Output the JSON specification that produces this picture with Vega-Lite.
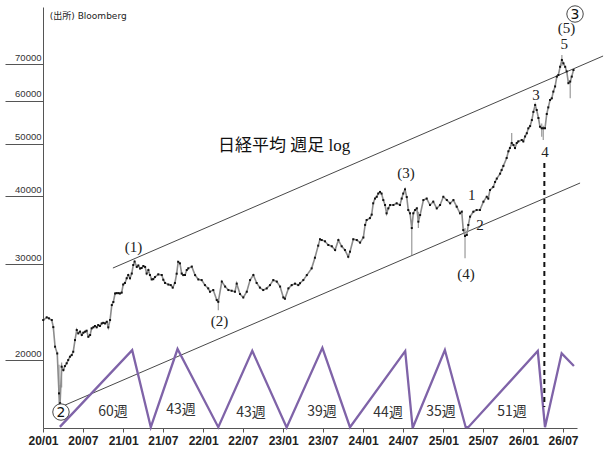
{
  "$schema": "https://vega.github.io/schema/vega-lite/v6.json",
  "description": "Nikkei weekly, log scale, with channel lines and cycle zigzag",
  "width": 534,
  "height": 421,
  "autosize": "none",
  "padding": {"left": 43, "top": 7, "right": 27, "bottom": 26},
  "background": "#ffffff",
  "config": {
    "view": {"stroke": null},
    "axis": {"domainColor": "#555555", "tickColor": "#555555", "grid": false, "title": null}
  },
  "datasets": {
    "price": [
      {"date": "2020-01-02", "v": 23700}, {"date": "2020-01-18", "v": 23970}, {"date": "2020-01-28", "v": 23870},
      {"date": "2020-02-10", "v": 23700}, {"date": "2020-02-17", "v": 23000}, {"date": "2020-02-25", "v": 21170},
      {"date": "2020-03-06", "v": 20570}, {"date": "2020-03-14", "v": 17370}, {"date": "2020-03-19", "v": 16660},
      {"date": "2020-03-26", "v": 19450}, {"date": "2020-04-03", "v": 19170}, {"date": "2020-04-10", "v": 19500},
      {"date": "2020-04-18", "v": 19730}, {"date": "2020-04-25", "v": 20000}, {"date": "2020-05-03", "v": 20290},
      {"date": "2020-05-11", "v": 20430}, {"date": "2020-05-18", "v": 20720}, {"date": "2020-05-26", "v": 21770},
      {"date": "2020-06-03", "v": 22720}, {"date": "2020-06-10", "v": 22400}, {"date": "2020-06-18", "v": 22560},
      {"date": "2020-06-26", "v": 22240}, {"date": "2020-07-03", "v": 22460}, {"date": "2020-07-11", "v": 22560},
      {"date": "2020-07-18", "v": 22650}, {"date": "2020-07-26", "v": 22080}, {"date": "2020-08-03", "v": 22240},
      {"date": "2020-08-10", "v": 22880}, {"date": "2020-08-18", "v": 22980}, {"date": "2020-08-25", "v": 23110},
      {"date": "2020-09-02", "v": 22980}, {"date": "2020-09-09", "v": 23200}, {"date": "2020-09-17", "v": 23110},
      {"date": "2020-09-25", "v": 23360}, {"date": "2020-10-02", "v": 23420}, {"date": "2020-10-10", "v": 23360},
      {"date": "2020-10-18", "v": 23520}, {"date": "2020-10-25", "v": 22980}, {"date": "2020-11-02", "v": 23700},
      {"date": "2020-11-10", "v": 25250}, {"date": "2020-11-17", "v": 25580}, {"date": "2020-11-25", "v": 26520},
      {"date": "2020-12-02", "v": 26560}, {"date": "2020-12-10", "v": 26560}, {"date": "2020-12-17", "v": 26520},
      {"date": "2020-12-25", "v": 26620}, {"date": "2021-01-01", "v": 27550}, {"date": "2021-01-09", "v": 27730},
      {"date": "2021-01-17", "v": 28290}, {"date": "2021-01-24", "v": 28680}, {"date": "2021-02-01", "v": 28290},
      {"date": "2021-02-09", "v": 28860}, {"date": "2021-02-16", "v": 29920}, {"date": "2021-02-22", "v": 30360},
      {"date": "2021-03-04", "v": 29680}, {"date": "2021-03-11", "v": 29860}, {"date": "2021-03-19", "v": 29480},
      {"date": "2021-03-26", "v": 29540}, {"date": "2021-04-03", "v": 29800}, {"date": "2021-04-11", "v": 29680},
      {"date": "2021-04-18", "v": 28860}, {"date": "2021-04-26", "v": 29290}, {"date": "2021-05-03", "v": 28680},
      {"date": "2021-05-11", "v": 28150}, {"date": "2021-05-18", "v": 28180}, {"date": "2021-05-26", "v": 28430},
      {"date": "2021-06-10", "v": 28760}, {"date": "2021-06-26", "v": 28680}, {"date": "2021-07-03", "v": 28110},
      {"date": "2021-07-11", "v": 27730}, {"date": "2021-07-26", "v": 27550}, {"date": "2021-08-06", "v": 27480},
      {"date": "2021-08-15", "v": 27190}, {"date": "2021-08-25", "v": 27730}, {"date": "2021-09-02", "v": 28840},
      {"date": "2021-09-09", "v": 30330}, {"date": "2021-09-17", "v": 30130}, {"date": "2021-09-25", "v": 28860},
      {"date": "2021-10-02", "v": 28670}, {"date": "2021-10-10", "v": 28680}, {"date": "2021-10-18", "v": 29290},
      {"date": "2021-10-25", "v": 29500}, {"date": "2021-11-10", "v": 29720}, {"date": "2021-11-25", "v": 28670},
      {"date": "2021-12-10", "v": 28150}, {"date": "2021-12-25", "v": 28070}, {"date": "2022-01-09", "v": 27480},
      {"date": "2022-01-24", "v": 27100}, {"date": "2022-02-01", "v": 26720}, {"date": "2022-02-16", "v": 26910},
      {"date": "2022-03-04", "v": 25790}, {"date": "2022-03-11", "v": 25600}, {"date": "2022-03-27", "v": 27890},
      {"date": "2022-04-11", "v": 27310}, {"date": "2022-04-26", "v": 26910}, {"date": "2022-05-11", "v": 26830},
      {"date": "2022-05-26", "v": 26720}, {"date": "2022-06-03", "v": 27650}, {"date": "2022-06-18", "v": 26460},
      {"date": "2022-07-03", "v": 26080}, {"date": "2022-07-19", "v": 26720}, {"date": "2022-08-03", "v": 28070},
      {"date": "2022-08-18", "v": 28680}, {"date": "2022-09-02", "v": 27730}, {"date": "2022-09-17", "v": 27190},
      {"date": "2022-10-02", "v": 26910}, {"date": "2022-10-18", "v": 27100}, {"date": "2022-11-02", "v": 27480},
      {"date": "2022-11-17", "v": 28070}, {"date": "2022-12-03", "v": 27890}, {"date": "2022-12-18", "v": 27310},
      {"date": "2023-01-02", "v": 26080}, {"date": "2023-01-09", "v": 25940}, {"date": "2023-01-25", "v": 27100},
      {"date": "2023-02-09", "v": 27480}, {"date": "2023-02-24", "v": 27650}, {"date": "2023-03-11", "v": 27480},
      {"date": "2023-03-19", "v": 27700}, {"date": "2023-04-03", "v": 28070}, {"date": "2023-04-19", "v": 28670},
      {"date": "2023-05-11", "v": 29500}, {"date": "2023-05-26", "v": 30860}, {"date": "2023-06-10", "v": 32480},
      {"date": "2023-06-18", "v": 33370}, {"date": "2023-06-26", "v": 33260}, {"date": "2023-07-11", "v": 33080},
      {"date": "2023-07-26", "v": 32570}, {"date": "2023-08-11", "v": 32390}, {"date": "2023-08-26", "v": 31880},
      {"date": "2023-09-10", "v": 33260}, {"date": "2023-09-25", "v": 32390}, {"date": "2023-10-10", "v": 31880},
      {"date": "2023-10-25", "v": 30990}, {"date": "2023-11-02", "v": 31660}, {"date": "2023-11-17", "v": 33370},
      {"date": "2023-12-03", "v": 33260}, {"date": "2023-12-18", "v": 32900}, {"date": "2024-01-02", "v": 33620},
      {"date": "2024-01-10", "v": 35460}, {"date": "2024-01-17", "v": 36210}, {"date": "2024-02-01", "v": 36500},
      {"date": "2024-02-09", "v": 37040}, {"date": "2024-02-16", "v": 38860}, {"date": "2024-02-24", "v": 39650},
      {"date": "2024-03-03", "v": 39950}, {"date": "2024-03-10", "v": 40500}, {"date": "2024-03-18", "v": 40780},
      {"date": "2024-03-25", "v": 40500}, {"date": "2024-04-02", "v": 39400}, {"date": "2024-04-10", "v": 38580},
      {"date": "2024-04-17", "v": 37250}, {"date": "2024-04-25", "v": 38040}, {"date": "2024-05-03", "v": 38580},
      {"date": "2024-05-18", "v": 38580}, {"date": "2024-06-02", "v": 38860}, {"date": "2024-06-17", "v": 38580},
      {"date": "2024-06-25", "v": 39650}, {"date": "2024-07-02", "v": 40500}, {"date": "2024-07-10", "v": 41220},
      {"date": "2024-07-18", "v": 39900}, {"date": "2024-07-25", "v": 37770}, {"date": "2024-08-02", "v": 37250},
      {"date": "2024-08-10", "v": 34990}, {"date": "2024-08-17", "v": 37250}, {"date": "2024-08-25", "v": 37770},
      {"date": "2024-09-02", "v": 38040}, {"date": "2024-09-09", "v": 35950}, {"date": "2024-09-17", "v": 36980},
      {"date": "2024-10-02", "v": 39400}, {"date": "2024-10-17", "v": 39650}, {"date": "2024-11-01", "v": 38580},
      {"date": "2024-11-16", "v": 39130}, {"date": "2024-12-02", "v": 38040}, {"date": "2024-12-17", "v": 38580},
      {"date": "2025-01-01", "v": 39950}, {"date": "2025-01-17", "v": 39400}, {"date": "2025-02-01", "v": 38860},
      {"date": "2025-02-16", "v": 39400}, {"date": "2025-03-03", "v": 38310}, {"date": "2025-03-18", "v": 37250},
      {"date": "2025-03-26", "v": 37500}, {"date": "2025-04-02", "v": 34700}, {"date": "2025-04-10", "v": 33830},
      {"date": "2025-04-18", "v": 33980}, {"date": "2025-04-25", "v": 35450}, {"date": "2025-05-03", "v": 36720},
      {"date": "2025-05-18", "v": 37500}, {"date": "2025-06-02", "v": 37770}, {"date": "2025-06-17", "v": 37770},
      {"date": "2025-07-03", "v": 39130}, {"date": "2025-07-18", "v": 39950}, {"date": "2025-07-25", "v": 39650},
      {"date": "2025-08-02", "v": 41110}, {"date": "2025-08-17", "v": 41650}, {"date": "2025-08-25", "v": 42540},
      {"date": "2025-09-02", "v": 43150}, {"date": "2025-09-17", "v": 44060}, {"date": "2025-09-24", "v": 44740},
      {"date": "2025-10-02", "v": 45530}, {"date": "2025-10-17", "v": 47090}, {"date": "2025-10-25", "v": 48440},
      {"date": "2025-11-01", "v": 49120}, {"date": "2025-11-09", "v": 50180}, {"date": "2025-11-17", "v": 49750},
      {"date": "2025-11-24", "v": 49120}, {"date": "2025-12-02", "v": 50180}, {"date": "2025-12-09", "v": 50510},
      {"date": "2025-12-25", "v": 50810}, {"date": "2026-01-01", "v": 50510}, {"date": "2026-01-09", "v": 51580},
      {"date": "2026-01-17", "v": 52290}, {"date": "2026-01-24", "v": 53390}, {"date": "2026-02-01", "v": 53900},
      {"date": "2026-02-09", "v": 55300}, {"date": "2026-02-16", "v": 57240}, {"date": "2026-02-24", "v": 58940},
      {"date": "2026-03-03", "v": 57700}, {"date": "2026-03-11", "v": 55780}, {"date": "2026-03-18", "v": 53760},
      {"date": "2026-03-26", "v": 53410}, {"date": "2026-04-02", "v": 53410}, {"date": "2026-04-10", "v": 53410},
      {"date": "2026-04-18", "v": 56730}, {"date": "2026-04-25", "v": 58340}, {"date": "2026-05-03", "v": 60200},
      {"date": "2026-05-11", "v": 60630}, {"date": "2026-05-18", "v": 62380}, {"date": "2026-05-26", "v": 63760},
      {"date": "2026-06-03", "v": 66470}, {"date": "2026-06-10", "v": 66930}, {"date": "2026-06-18", "v": 69290},
      {"date": "2026-06-26", "v": 71310}, {"date": "2026-07-03", "v": 70320}, {"date": "2026-07-11", "v": 69290},
      {"date": "2026-07-18", "v": 67950}, {"date": "2026-07-26", "v": 64660}, {"date": "2026-08-03", "v": 65090},
      {"date": "2026-08-10", "v": 66470}, {"date": "2026-08-18", "v": 68350}
    ],
    "wicks": [
      {"date": "2020-03-14", "lo": 16540, "hi": 19600},
      {"date": "2020-03-19", "lo": 16400, "hi": 18000},
      {"date": "2020-03-26", "lo": 17800, "hi": 19800},
      {"date": "2022-03-11", "lo": 24700, "hi": 26000},
      {"date": "2024-08-10", "lo": 31210, "hi": 36000},
      {"date": "2024-09-09", "lo": 35000, "hi": 37500},
      {"date": "2025-04-10", "lo": 30780, "hi": 35000},
      {"date": "2025-11-09", "lo": 49500, "hi": 52330},
      {"date": "2026-03-26", "lo": 51500, "hi": 54500},
      {"date": "2026-04-02", "lo": 50810, "hi": 54000},
      {"date": "2026-06-26", "lo": 69500, "hi": 72840},
      {"date": "2026-08-03", "lo": 60630, "hi": 65500}
    ],
    "channels": [
      {"line": "upper", "date": "2020-11-15", "v": 29540},
      {"line": "upper", "date": "2026-12-31", "v": 72530},
      {"line": "lower", "date": "2020-04-01", "v": 16465},
      {"line": "lower", "date": "2026-09-17", "v": 42350}
    ],
    "cycle": [
      {"date": "2020-03-18", "v": 15070}, {"date": "2021-02-11", "v": 20860},
      {"date": "2021-05-07", "v": 15050}, {"date": "2021-09-06", "v": 20960},
      {"date": "2022-03-11", "v": 15050}, {"date": "2022-08-13", "v": 20800},
      {"date": "2023-01-17", "v": 15030}, {"date": "2023-06-29", "v": 21070},
      {"date": "2023-11-02", "v": 15050}, {"date": "2024-07-11", "v": 20780},
      {"date": "2024-08-14", "v": 15000}, {"date": "2025-01-08", "v": 20870},
      {"date": "2025-04-13", "v": 15050}, {"date": "2025-04-25", "v": 15050},
      {"date": "2026-03-08", "v": 20780}, {"date": "2026-04-10", "v": 15050},
      {"date": "2026-06-25", "v": 20580}, {"date": "2026-08-20", "v": 19500}
    ],
    "weeks": [
      {"date": "2020-11-15", "v": 16050, "label": "60週"},
      {"date": "2021-09-22", "v": 16190, "label": "43週"},
      {"date": "2022-08-07", "v": 15990, "label": "43週"},
      {"date": "2023-06-27", "v": 16050, "label": "39週"},
      {"date": "2024-04-24", "v": 15990, "label": "44週"},
      {"date": "2024-12-21", "v": 16050, "label": "35週"},
      {"date": "2025-11-10", "v": 16050, "label": "51週"}
    ],
    "waves": [
      {"date": "2021-02-17", "v": 32300, "label": "(1)"},
      {"date": "2022-03-16", "v": 23600, "label": "(2)"},
      {"date": "2024-07-15", "v": 44180, "label": "(3)"},
      {"date": "2025-04-15", "v": 28790, "label": "(4)"},
      {"date": "2026-07-17", "v": 81670, "label": "(5)"},
      {"date": "2025-05-11", "v": 40250, "label": "1"},
      {"date": "2025-06-17", "v": 35450, "label": "2"},
      {"date": "2026-02-28", "v": 61490, "label": "3"},
      {"date": "2026-04-10", "v": 48300, "label": "4"},
      {"date": "2026-07-07", "v": 76320, "label": "5"}
    ],
    "circled": [
      {"date": "2020-03-23", "v": 16050, "label": "2"},
      {"date": "2026-08-25", "v": 86660, "label": "3"}
    ],
    "marker": [
      {"date": "2026-04-07", "v": 46090, "v2": 16390}
    ],
    "notes": [
      {"date": "2023-01-05", "v": 49540, "label": "日経平均 週足 log", "kind": "title"},
      {"date": "2020-02-01", "v": 85930, "label": "(出所) Bloomberg", "kind": "source"}
    ]
  },
  "encoding": {
    "x": {
      "field": "date",
      "type": "temporal",
      "scale": {
        "type": "utc",
        "nice": false,
        "domain": [
          {"year": 2020, "month": 1, "date": 1, "utc": true},
          {"year": 2026, "month": 9, "date": 3, "utc": true}
        ]
      },
      "axis": {
        "values": [
          {"year": 2020, "month": 1, "date": 1, "utc": true},
          {"year": 2020, "month": 7, "date": 1, "utc": true},
          {"year": 2021, "month": 1, "date": 1, "utc": true},
          {"year": 2021, "month": 7, "date": 1, "utc": true},
          {"year": 2022, "month": 1, "date": 1, "utc": true},
          {"year": 2022, "month": 7, "date": 1, "utc": true},
          {"year": 2023, "month": 1, "date": 1, "utc": true},
          {"year": 2023, "month": 7, "date": 1, "utc": true},
          {"year": 2024, "month": 1, "date": 1, "utc": true},
          {"year": 2024, "month": 7, "date": 1, "utc": true},
          {"year": 2025, "month": 1, "date": 1, "utc": true},
          {"year": 2025, "month": 7, "date": 1, "utc": true},
          {"year": 2026, "month": 1, "date": 1, "utc": true},
          {"year": 2026, "month": 7, "date": 1, "utc": true}
        ],
        "labelExpr": "utcFormat(datum.value, '%y/%m')",
        "labelFlush": false,
        "labelOverlap": false,
        "labelAlign": "center",
        "tickSize": 4,
        "labelPadding": 3,
        "labelFont": "Liberation Sans",
        "labelFontWeight": "bold",
        "labelFontSize": 12,
        "labelColor": "#222222"
      }
    },
    "y": {
      "field": "v",
      "type": "quantitative",
      "scale": {"type": "log", "nice": false, "domain": [15000, 89270]},
      "axis": {
        "values": [20000, 30000, 40000, 50000, 60000, 70000],
        "format": "d",
        "tickSize": 38,
        "labelPadding": -36,
        "labelBaseline": "bottom",
        "labelOffset": -2,
        "labelFont": "Liberation Sans",
        "labelFontSize": 9.5,
        "labelColor": "#333333"
      }
    }
  },
  "layer": [
    {
      "data": {"name": "channels"},
      "mark": {"type": "line", "color": "#333333", "strokeWidth": 0.9, "clip": false},
      "encoding": {"detail": {"field": "line"}}
    },
    {
      "data": {"name": "cycle"},
      "mark": {"type": "line", "color": "#7f63a8", "strokeWidth": 2.3, "clip": false},
      "encoding": {}
    },
    {
      "data": {"name": "marker"},
      "mark": {"type": "rule", "color": "#111111", "strokeWidth": 2, "strokeDash": [5, 4]},
      "encoding": {"y2": {"field": "v2"}}
    },
    {
      "data": {"name": "wicks"},
      "mark": {"type": "rule", "color": "#999999", "strokeWidth": 1.2},
      "encoding": {"y": {"field": "lo", "type": "quantitative"}, "y2": {"field": "hi"}}
    },
    {
      "data": {"name": "price"},
      "mark": {"type": "line", "color": "#8c8c8c", "strokeWidth": 1.6},
      "encoding": {}
    },
    {
      "data": {"name": "price"},
      "mark": {"type": "square", "color": "#111111", "size": 4, "opacity": 1},
      "encoding": {}
    },
    {
      "data": {"name": "waves"},
      "mark": {"type": "text", "font": "Liberation Serif", "fontSize": 15, "color": "#222222", "baseline": "middle"},
      "encoding": {"text": {"field": "label"}}
    },
    {
      "data": {"name": "circled"},
      "mark": {"type": "point", "shape": "circle", "size": 270, "filled": true, "fill": "#ffffff", "stroke": "#333333", "strokeWidth": 0.9, "opacity": 1, "fillOpacity": 1},
      "encoding": {}
    },
    {
      "data": {"name": "circled"},
      "mark": {"type": "text", "font": "DejaVu Sans", "fontSize": 14, "color": "#111111", "baseline": "middle", "dy": 1},
      "encoding": {"text": {"field": "label"}}
    },
    {
      "data": {"name": "weeks"},
      "mark": {"type": "text", "font": "Noto Sans CJK JP", "fontSize": 14, "color": "#333333", "baseline": "middle"},
      "encoding": {"text": {"field": "label"}}
    },
    {
      "data": {"name": "notes"},
      "transform": [{"filter": "datum.kind == 'title'"}],
      "mark": {"type": "text", "font": "Liberation Serif, Noto Sans CJK JP", "fontSize": 17, "color": "#111111", "align": "center", "baseline": "middle"},
      "encoding": {"text": {"field": "label"}}
    },
    {
      "data": {"name": "notes"},
      "transform": [{"filter": "datum.kind == 'source'"}],
      "mark": {"type": "text", "font": "DejaVu Sans, Noto Sans CJK JP", "fontSize": 9, "color": "#222222", "align": "left", "baseline": "middle"},
      "encoding": {"text": {"field": "label"}}
    }
  ]
}
